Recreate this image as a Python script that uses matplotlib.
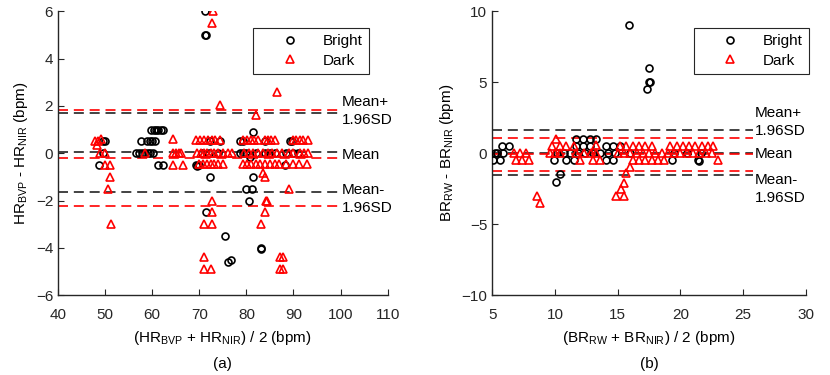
import numpy as np
import matplotlib.pyplot as plt

plt.rcParams['font.family'] = ['Liberation Sans', 'DejaVu Sans']
plt.rcParams['mathtext.fontset'] = 'custom'
plt.rcParams['mathtext.rm'] = 'Liberation Sans'
plt.rcParams['mathtext.it'] = 'Liberation Sans'

# ---- (a) heart rate, bright condition
hr_bright_x = [71.2, 71.2, 71.5,
               59.8, 60.3, 60.8, 61.3, 61.8, 62.2,
               57.7, 58.8, 59.5, 60.0, 60.5, 49.5, 49.9,
               56.6, 57.2, 57.8, 58.4, 59.0, 59.6, 60.1, 49.5,
               48.7, 61.2, 62.3, 69.4, 69.6, 69.9,
               72.2, 74.3, 72.2, 71.5, 75.5, 76.1, 76.8,
               81.4, 80.7, 81.4, 80.0, 81.1, 80.5, 83.0, 83.1,
               79.3, 78.6, 78.6, 79.3, 80.0,
               88.1, 89.2, 89.6, 88.5, 85.0, 84.0,
               70.5, 72.0, 74.0, 82.0, 84.0, 86.0, 90.0, 91.0]
hr_bright_y = [6, 5, 5,
               1, 1, 1, 1, 1, 1,
               0.5, 0.5, 0.5, 0.5, 0.5, 0.5, 0.5,
               0, 0, 0, 0, 0, 0, 0, 0,
               -0.5, -0.5, -0.5, -0.5, -0.55, -0.5,
               0.5, 0.5, -1, -2.5, -3.5, -4.6, -4.5,
               0.9, -0.15, -1, -1.5, -1.5, -2, -4, -4.05,
               0.5, 0.5, 0, 0, 0,
               -0.5, 0.5, 0.5, 0, 0, 0.5,
               0, 0, 0, 0, 0, 0, 0, 0]

# ---- (a) heart rate, dark condition
hr_dark_x = [72.9, 72.8, 86.5, 74.3, 82.1,
             47.8, 48.5, 49.2, 48.2, 48.8, 49.9, 49.9, 51.0, 51.0, 50.6, 51.3,
             58.4,
             64.4, 64.4, 65.0, 65.6, 66.2, 64.4, 66.6,
             69.4, 70.2, 71.0, 71.8, 72.6, 73.4, 74.3,
             69.5, 70.3, 71.0, 71.7, 72.4, 73.2, 74.0, 75.0, 76.0, 77.0,
             70.0, 70.8, 71.6, 72.4, 73.2, 74.0, 75.0,
             72.6, 71.1, 72.6, 72.6, 71.0, 71.0, 72.4,
             79.3, 80.1, 80.9, 81.7, 82.5, 83.9, 84.6, 85.3, 86.0,
             79.5, 80.5, 81.5, 82.5, 83.5, 84.5, 85.5, 86.5, 87.5, 89.0, 90.0, 91.3, 92.3, 93.0,
             79.3, 80.2, 81.0, 82.0, 82.8, 84.0, 85.0, 86.0, 87.0, 88.5, 90.0, 91.2, 92.8,
             83.9, 83.5, 84.2, 84.4, 83.9, 83.2, 87.1, 87.8, 87.1, 87.8, 89.0,
             89.8, 90.5, 91.3, 92.1, 93.0]
hr_dark_y = [6, 5.5, 2.6, 2.05, 1.6,
             0.5, 0.5, 0.6, 0.35, 0, 0, -0.5, -0.5, -1, -1.5, -3,
             0,
             0.6, 0, 0, 0, 0, -0.5, -0.5,
             0.55, 0.55, 0.55, 0.55, 0.55, 0.55, 0.55,
             0, 0, 0, 0, 0, 0, 0, 0, 0, 0,
             -0.45, -0.45, -0.45, -0.45, -0.45, -0.45, -0.45,
             -2, -3, -3, -2.5, -4.4, -4.9, -4.9,
             0.55, 0.55, 0.55, 0.55, 0.55, 0.55, 0.55, 0.55, 0.55,
             0, 0, 0, 0, 0, 0, 0, 0, 0, 0, 0, 0, 0, 0,
             -0.45, -0.45, -0.45, -0.45, -0.45, -0.45, -0.45, -0.45, -0.45, -0.45, -0.45, -0.45, -0.45,
             -1, -0.85, -2, -2, -2.5, -3, -4.4, -4.4, -4.9, -4.9, -1.5,
             0.55, 0.55, 0.55, 0.55, 0.55]

# ---- (b) breathing rate, bright condition
br_bright_x = [15.9, 17.5, 17.5, 17.55, 17.3,
               5.1, 5.6, 5.4, 5.9, 5.8, 6.3, 5.2,
               10.4, 10.1, 9.9,
               11.7, 12.2, 12.8, 13.3, 11.7, 12.2, 12.8,
               10.9, 11.5, 14.1, 14.6,
               14.1, 14.6, 15.2,
               10.2, 10.7, 11.2, 11.8, 12.4, 13.0, 13.6, 14.2, 14.8, 21.6, 19.5, 20.5, 16.0,
               19.3, 21.4, 21.45]
br_bright_y = [9, 6, 5, 5.05, 4.5,
               -0.5, -0.5, 0, 0, 0.5, 0.5, 0,
               -1.5, -2, -0.5,
               1, 1, 1, 1, 0.5, 0.5, 0.5,
               -0.5, -0.5, -0.5, -0.5,
               0.5, 0.5, 0.5,
               0, 0, 0, 0, 0, 0, 0, 0, 0, 0, 0, 0, 0,
               -0.5, -0.5, -0.55]

# ---- (b) breathing rate, dark condition
br_dark_x = [6.7, 7.2, 7.7, 6.9, 7.4, 7.9,
             8.6, 8.8,
             10.1, 9.8, 10.4, 9.6, 10.0, 10.4,
             10.9, 11.5, 11.7, 12.3, 12.9, 13.3, 13.3, 12.0, 13.0, 13.6,
             15.2, 15.7, 16.2, 16.7, 17.2, 17.7,
             19.2, 19.7, 20.2, 20.7, 21.2, 21.7, 22.2, 22.6,
             15.0, 15.5, 16.0, 16.5, 17.0, 17.5, 18.0, 18.5, 19.0, 19.5, 20.0, 20.5, 21.0, 21.5, 22.0, 22.5,
             16.2, 16.7, 17.2, 17.7, 18.2, 18.7, 23.0,
             16.0, 15.7, 15.5, 15.3, 14.9, 15.5]
br_dark_y = [0, 0, 0, -0.5, -0.5, -0.5,
             -3, -3.5,
             1, 0.5, 0.5, 0, 0, 0,
             0.5, 0.5, 0, 0, 0, 0, 0.6, -0.5, -0.5, -0.5,
             0.5, 0.5, 0.5, 0.5, 0.5, 0.5,
             0.5, 0.5, 0.5, 0.5, 0.5, 0.5, 0.5, 0.5,
             0, 0, 0, 0, 0, 0, 0, 0, 0, 0, 0, 0, 0, 0, 0, 0,
             -0.5, -0.5, -0.5, -0.5, -0.5, -0.5, -0.5,
             -1, -1.4, -2.1, -2.5, -3, -3]

# mean and limits of agreement: [lower, mean, upper]
hr_bright_loa = [-1.65, 0.03, 1.71]
hr_dark_loa = [-2.24, -0.2, 1.83]
br_bright_loa = [-1.51, 0.02, 1.61]
br_dark_loa = [-1.28, -0.09, 1.09]

loa_labels = ['Mean-\n1.96SD', 'Mean', 'Mean+\n1.96SD']
hr_label_y = [-1.95, -0.08, 1.77]
br_label_y = [-2.5, -0.07, 2.2]


def bland_altman(ax, bx, by, dx, dy, b_loa, d_loa, label_y, line_end, xlim, ylim,
                 xticks, yticks, xlabel, ylabel, tag, leg_anchor):
    ax.plot(bx, by, 'o', mfc='none', mec='k', ms=5, mew=1.2, label='Bright', zorder=3)
    ax.plot(dx, dy, '^', mfc='none', mec='r', ms=5.5, mew=1.2, label='Dark', zorder=3)
    for v in b_loa:
        ax.plot([xlim[0], line_end], [v, v], color='#222222', lw=1.2, ls=(0, (6, 3.5)), zorder=2)
    for v in d_loa:
        ax.plot([xlim[0], line_end], [v, v], color='r', lw=1.2, ls=(0, (6, 3.5)), zorder=2)
    for i in range(3):
        ax.text(line_end + (xlim[1] - xlim[0]) * 0.005, label_y[i], loa_labels[i],
                ha='left', va='center', fontsize=11, linespacing=1.35)
    ax.set_xlim(xlim)
    ax.set_ylim(ylim)
    ax.set_xticks(xticks)
    ax.set_yticks(yticks)
    ax.spines['top'].set_visible(False)
    ax.spines['right'].set_visible(False)
    for s in ['left', 'bottom']:
        ax.spines[s].set_color('#262626')
        ax.spines[s].set_linewidth(1.0)
    ax.tick_params(direction='in', length=4, labelsize=11, colors='#262626', labelcolor='#262626')
    ax.tick_params(axis='x', pad=9)
    ax.set_xlabel(xlabel, fontsize=11, labelpad=5)
    ax.set_ylabel(ylabel, fontsize=11)
    ax.text(0.5, -0.218, '(' + tag + ')', transform=ax.transAxes, ha='center', va='top', fontsize=11)
    leg = ax.legend(loc='upper right', bbox_to_anchor=leg_anchor, fontsize=11, frameon=True,
                    fancybox=False, framealpha=1, edgecolor='#262626', borderpad=0.4,
                    handletextpad=0.15, handlelength=4.0, labelspacing=0.35, borderaxespad=0)
    leg.get_frame().set_linewidth(0.8)


fig = plt.figure(figsize=(8.3, 3.75), dpi=100)
ax1 = fig.add_axes([0.070, 0.213, 0.397, 0.757])
ax2 = fig.add_axes([0.593, 0.213, 0.378, 0.757])

bland_altman(ax1, hr_bright_x, hr_bright_y, hr_dark_x, hr_dark_y, hr_bright_loa, hr_dark_loa,
             hr_label_y, 100, (40, 110), (-6, 6), range(40, 111, 10), range(-6, 7, 2),
             r'(HR$_{\mathrm{BVP}}$ + HR$_{\mathrm{NIR}}$) / 2 (bpm)',
             r'HR$_{\mathrm{BVP}}$ - HR$_{\mathrm{NIR}}$ (bpm)', 'a', (0.943, 0.94))
bland_altman(ax2, br_bright_x, br_bright_y, br_dark_x, br_dark_y, br_bright_loa, br_dark_loa,
             br_label_y, 25.8, (5, 30), (-10, 10), range(5, 31, 5), range(-10, 11, 5),
             r'(BR$_{\mathrm{RW}}$ + BR$_{\mathrm{NIR}}$) / 2 (bpm)',
             r'BR$_{\mathrm{RW}}$ - BR$_{\mathrm{NIR}}$ (bpm)', 'b', (1.01, 0.94))

fig.savefig('out.png', dpi=100)
